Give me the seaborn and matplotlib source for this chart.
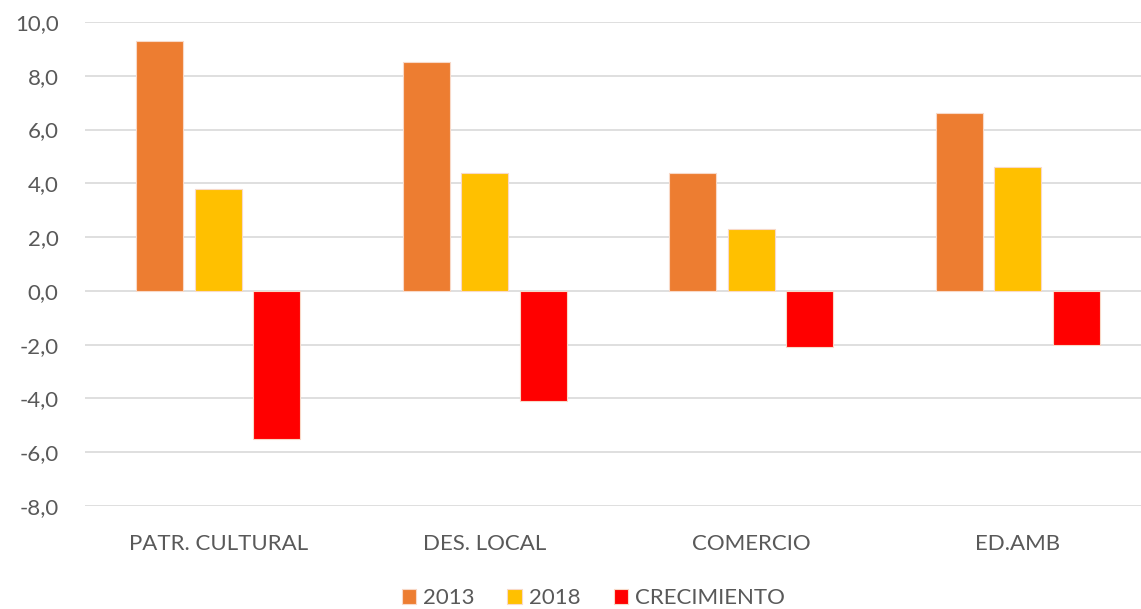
import matplotlib
matplotlib.use("Agg")
import matplotlib.pyplot as plt
import seaborn as sns
import pandas as pd

categories = ["PATR. CULTURAL", "DES. LOCAL", "COMERCIO", "ED.AMB"]
series_names = ["2013", "2018", "CRECIMIENTO"]
values_2013 = [9.3, 8.5, 4.4, 6.6]
values_2018 = [3.8, 4.4, 2.3, 4.6]
values_crec = [-5.5, -4.1, -2.1, -2.0]
colors = ["#ED7D31", "#FFC000", "#FF0000"]
yticks = [-8, -6, -4, -2, 0, 2, 4, 6, 8, 10]

rows = []
for name, vals in zip(series_names, [values_2013, values_2018, values_crec]):
    for c, v in zip(categories, vals):
        rows.append({"cat": c, "serie": name, "valor": v})
df = pd.DataFrame(rows)

sns.set_theme(style="white")
plt.rcParams["font.family"] = ["Lato", "DejaVu Sans"]
txt = "#595959"

fig = plt.figure(figsize=(11.41, 6.09), dpi=100)
ax = fig.add_axes([85/1141, 1-506/609, (1151-85)/1141, (506-22)/609])

sns.barplot(data=df, x="cat", y="valor", hue="serie", order=categories,
            hue_order=series_names, palette=colors, saturation=1,
            width=0.66, gap=0.2,
            edgecolor="#F8D9C8", linewidth=0.8, ax=ax, legend=True)

ax.set_ylim(-8, 10)
ax.set_yticks(yticks)
ax.set_yticklabels([f"{t:.1f}".replace(".", ",") for t in yticks], color=txt, fontsize=16)
ax.set_xlabel("")
ax.set_ylabel("")
ax.set_xlim(-0.5, 3.5)
ax.grid(axis="y", color="#D9D9D9", linewidth=1.2)
ax.set_axisbelow(True)
for s in ax.spines.values():
    s.set_visible(False)
ax.tick_params(axis="both", length=0)
ax.tick_params(axis="y", pad=19)
ax.tick_params(axis="x", pad=20)
for lab in ax.get_xticklabels():
    lab.set_color(txt)
    lab.set_fontsize(16)

handles, labels = ax.get_legend_handles_labels()
ax.get_legend().remove()
fig.legend(handles, labels, loc="center", bbox_to_anchor=(593/1141, 1-598/609),
           ncol=3, frameon=False, fontsize=16, labelcolor=txt,
           handlelength=0.65, handleheight=0.65, handletextpad=0.3, columnspacing=1.5)

fig.savefig("out.png", dpi=100)
